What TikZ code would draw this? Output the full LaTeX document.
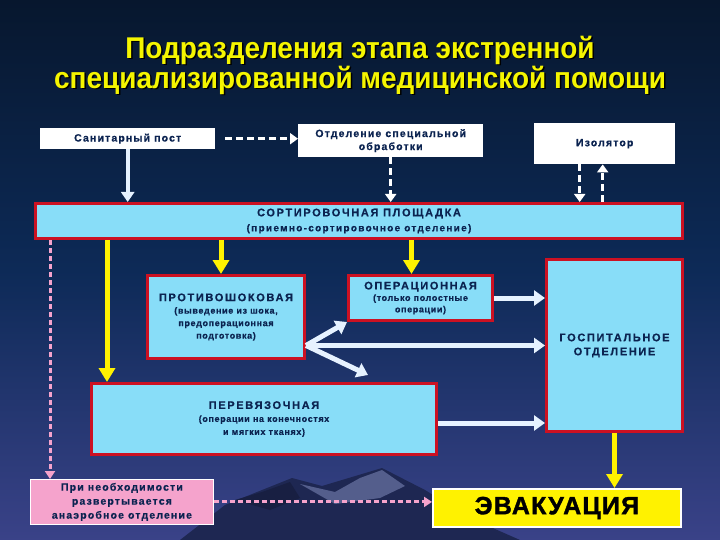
\documentclass[tikz,border=0pt]{standalone}
\usepackage{fontspec}
\setmainfont{Liberation Sans}
\newfontfamily\titlefont[FakeStretch=0.932]{Liberation Sans}
\newfontfamily\lsA[LetterSpace=11,FakeBold=0.6]{Liberation Sans}
\newfontfamily\lsH[LetterSpace=15,FakeBold=0.6]{Liberation Sans}
\newfontfamily\lsS[LetterSpace=7,FakeBold=0.4]{Liberation Sans}
\newfontfamily\lsT[LetterSpace=13,FakeBold=0.4]{Liberation Sans}
\newfontfamily\heavy[FakeBold=1.5,LetterSpace=5]{Liberation Sans}
\usetikzlibrary{arrows.meta,calc}
\definecolor{bgtop}{HTML}{07172E}
\definecolor{bgmid}{HTML}{0D2A57}
\definecolor{bgbot}{HTML}{3A4288}
\definecolor{navy}{HTML}{0B2350}
\definecolor{lblue}{HTML}{88DDF8}
\definecolor{boxred}{HTML}{CC1122}
\definecolor{arrwhite}{HTML}{E6F2FF}
\definecolor{pinkc}{HTML}{F5A3CC}
\definecolor{titley}{HTML}{F5F500}
\definecolor{mtdark}{HTML}{1E2752}
\definecolor{mtlight}{HTML}{545E8C}
\newcommand{\hd}[1]{{\lsH\fontsize{11}{13}\selectfont\bfseries #1}}
\tikzset{
  wbox/.style={fill=white, inner sep=0pt, text=navy, align=center,
    font=\lsA\fontsize{10.5}{13}\selectfont\bfseries},
  bbox/.style={fill=lblue, draw=boxred, line width=3pt, inner sep=0pt, text=navy,
    align=center, font=\lsS\fontsize{9}{12.5}\selectfont\bfseries},
  warrow/.style={draw=arrwhite, line width=5pt, -{Triangle[length=11pt,width=15pt]}},
  wdash/.style={draw=white, line width=3.5pt, dash pattern=on 7pt off 4pt,
    -{Triangle[length=8pt,width=11pt]}},
  yarrow/.style={draw=yellow, line width=5pt, -{Triangle[length=14pt,width=16pt]}},
  pdash/.style={draw=pinkc, line width=3pt, dash pattern=on 5pt off 3pt,
    -{Triangle[length=8pt,width=10pt]}}
}
\begin{document}
\begin{tikzpicture}[x=1pt,y=-1pt]
\useasboundingbox (0,0) rectangle (720,540);
% background
\shade[top color=bgtop, bottom color=bgbot, middle color=bgmid] (0,0) rectangle (720,540);
% mountains
\fill[mtdark] (180,540) -- (225,505) -- (262,490) -- (292,478) -- (322,486) -- (352,477) -- (382,468) -- (425,490) -- (470,518) -- (520,540) -- cycle;
\fill[mtlight] (300,484) -- (335,492) -- (360,478) -- (382,470) -- (405,486) -- (380,498) -- (335,504) -- cycle;
\fill[mtdark!80!black] (235,500) -- (262,492) -- (290,482) -- (300,498) -- (270,510) -- cycle;
% title
\node[font=\titlefont\fontsize{30}{30}\selectfont\bfseries, text=black, align=center] at (361.5,66.5)
  {Подразделения этапа экстренной\\специализированной медицинской помощи};
\node[font=\titlefont\fontsize{30}{30}\selectfont\bfseries, text=titley, align=center] (title) at (360,65)
  {Подразделения этапа экстренной\\специализированной медицинской помощи};
% top boxes
\node[wbox, minimum width=175pt, minimum height=21pt, anchor=north west] (sanpost) at (40,128) {Санитарный пост};
\node[wbox, minimum width=185pt, minimum height=33pt, anchor=north west] (obrab) at (298,124) {Отделение специальной\\обработки};
\node[wbox, minimum width=141pt, minimum height=41pt, anchor=north west] (izol) at (534,123) {Изолятор};
% sorting
\node[bbox, minimum width=647pt, minimum height=35pt, anchor=north west, font=\lsT\fontsize{10}{15}\selectfont\bfseries] (sort) at (34,202)
  {\hd{СОРТИРОВОЧНАЯ ПЛОЩАДКА}\\(приемно-сортировочное отделение)};
% departments
\node[bbox, minimum width=157pt, minimum height=83pt, anchor=north west] (shock) at (146,274)
  {\hd{ПРОТИВОШОКОВАЯ}\\(выведение из шока,\\предоперационная\\подготовка)};
\node[bbox, minimum width=144pt, minimum height=45pt, anchor=north west, font=\lsS\fontsize{9}{11.5}\selectfont\bfseries] (oper) at (347,274)
  {\hd{ОПЕРАЦИОННАЯ}\\(только полостные\\операции)};
\node[bbox, minimum width=136pt, minimum height=172pt, anchor=north west, font=\lsH\fontsize{11}{14}\selectfont\bfseries] (hosp) at (545,258)
  {ГОСПИТАЛЬНОЕ\\ОТДЕЛЕНИЕ};
\node[bbox, minimum width=345pt, minimum height=71pt, anchor=north west, font=\lsS\fontsize{9}{13}\selectfont\bfseries] (perev) at (90,382)
  {\hd{ПЕРЕВЯЗОЧНАЯ}\\(операции на конечностях\\и мягких тканях)};
\node[fill=pinkc, draw=white, line width=0.8pt, inner sep=0pt, minimum width=183pt, minimum height=45pt, anchor=north west,
  text=navy, align=center, font=\lsA\fontsize{10.5}{14}\selectfont\bfseries] (anaer) at (30,479)
  {При необходимости\\развертывается\\анаэробное отделение};
\node[fill=yellow, draw=white, line width=2pt, inner sep=0pt, minimum width=248pt, minimum height=38pt, anchor=north west,
  text=black, font=\heavy\fontsize{25}{27}\selectfont\bfseries] (evac) at (432,488) {ЭВАКУАЦИЯ};
% coordinates
\coordinate (ya) at ([xshift=17pt]perev.north west);
\coordinate (yb) at ([xshift=-5pt]shock.north);
\coordinate (yc) at ([xshift=-9pt]oper.north);
\coordinate (pa) at ([xshift=20pt]anaer.north west);
\coordinate (idown) at ([xshift=-25pt]izol.south);
\coordinate (iup) at ([xshift=-2pt]izol.south);
\coordinate (src) at (shock.east |- hosp.west);
\coordinate (pend) at ([xshift=278pt,yshift=7pt]perev.north west);
\coordinate (pe) at ([yshift=-4pt]perev.east);
% top arrows
\draw[warrow, line width=4pt, -{Triangle[length=10pt,width=13pt]}] (sanpost.south) -- (sanpost.south |- sort.north);
\draw[wdash] ([xshift=10pt]sanpost.east) -- (obrab.west |- sanpost.east);
\draw[wdash] (obrab.south) -- (obrab.south |- sort.north);
\draw[wdash] (idown) -- (idown |- sort.north);
\draw[wdash] (iup |- sort.north) -- (iup);
% yellow arrows
\draw[yarrow] (ya |- sort.south) -- (ya);
\draw[yarrow] (yb |- sort.south) -- (yb);
\draw[yarrow] (yc |- sort.south) -- (yc);
\draw[yarrow] (hosp.south) -- (hosp.south |- evac.north);
% pink dashed
\draw[pdash] (pa |- sort.south) -- (pa);
\draw[pdash] (anaer.east) -- (evac.west |- anaer.east);
% white arrows
\draw[warrow] (src) -- (oper.south west);
\draw[warrow] (src) -- (hosp.west);
\draw[warrow] (src) -- (pend);
\draw[warrow] (oper.east) -- (hosp.west |- oper.east);
\draw[warrow] (pe) -- (hosp.west |- pe);
\end{tikzpicture}
\end{document}
